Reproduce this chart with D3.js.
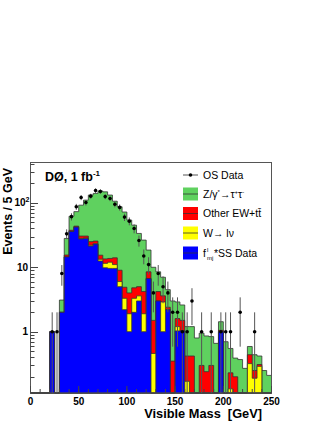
<!DOCTYPE html>
<html>
<head>
<meta charset="utf-8">
<script src="https://cdn.jsdelivr.net/npm/d3@7"></script>
<style>
  body { margin: 0; background: #fff; }
  text { font-family: "Liberation Sans", Arial, Helvetica, sans-serif; }
</style>
</head>
<body>
<script>
// visible mass bins (lower edge, GeV), 5 GeV wide
const massBins = [0, 5, 10, 15, 20, 25, 30, 35, 40, 45, 50, 55, 60, 65, 70, 75, 80, 85, 90, 95,
  100, 105, 110, 115, 120, 125, 130, 135, 140, 145, 150, 155, 160, 165, 170, 175, 180, 185, 190, 195,
  200, 205, 210, 215, 220, 225, 230, 235, 240, 245];
const binUpper = 250;

// stacked backgrounds, events per bin
const fakeSS = [0, 0, 0, 0, 1, 0, 2, 14.5, 36, 42, 27.5, 28, 21.3, 22.9, 12.5, 9.8, 9.6, 9.6, 5, 2.2,
  1, 2, 3, 1, 6.7, 0, 3, 1, 2.2, 0, 1.03, 1.03, 0, 0, 0, 0, 0, 0, 0, 1,
  0, 0, 0, 0, 0, 0, 0, 0, 0, 0];
const wToLnu = [0, 0, 0, 0, 0, 0, 0, 0, 0, 0, 0.5, 0.5, 0.7, 0.4, 0.8, 1.7, 2.4, 1.4, 1, 1.1,
  0.9, 1.3, 0.6, 0.9, 0, 0.46, 0, 1.9, 0, 0, 0.17, 0, 0.17, 0, 0, 0, 0, 0, 0, 0,
  0, 0.13, 0, 0, 0, 0.32, 0.19, 0.29, 0, 0];
const otherEW = [0, 0, 0, 0, 0, 0, 0, 1, 1.5, 1.5, 2.5, 2, 3, 2.2, 2.1, 2, 1.7, 3, 3, 1.6,
  2.1, 1.5, 1.4, 2.3, 1.8, 1.04, 1.2, 0.7, 0.2, 0.35, 0.4, 0.47, 0.25, 0.42, 0, 0.3, 0.24, 0.3, 0, 0.05,
  0, 0.1, 0.2, 0, 0, 0.12, 0.06, 0.02, 0, 0];
const zTauTau = [0, 0, 0, 0, 0, 0, 1.1, 12.5, 24.5, 29.5, 61.5, 79.5, 107, 114.5, 137.6, 134.5, 118.3, 92, 78, 67.1,
  50, 40.2, 28.5, 22.2, 10, 8.5, 4.3, 3.4, 2.1, 2.65, 1.3, 1.1, 0.78, 0.78, 0.8, 0.65, 0.62, 0.54, 0.66, 0.38,
  0.7, 0.32, 0.19, 0.37, 0.27, 0.15, 0.19, 0.11, 0.25, 0.21];

// opposite-sign data, counts per bin (null = no entry)
const osData = [null, null, null, null, 1, 1, 8, 33, 61, 87, 121, 101, 127, 155, 150, 125, 117, 95, 85, 60,
  52, 40, 26, 15, 11, 4, 8, 5, 4, 2, 2, 1, 1, 3, null, 1, null, 1, null, 1,
  1, 1, null, 2, null, null, 1, null, null, null];

const yTicks = [1, 10, 100];
const xTicks = [0, 50, 100, 150, 200, 250];

const seriesKeys = ["fakeSS", "wToLnu", "otherEW", "zTauTau"];
const seriesColor = { fakeSS: "#0000ff", wToLnu: "#ffff00", otherEW: "#ff0000", zTauTau: "#5fd15f" };

const width = 327, height = 423;
const svg = d3.select("body").append("svg")
  .attr("width", width)
  .attr("height", height)
  .style("background", "#fff");

const x = d3.scaleLinear().domain([0, 250]).range([30.5, 271.5]);
const y = d3.scaleLog().domain([0.112, 430]).range([393, 162]).clamp(true);

// stack the four backgrounds
const table = massBins.map((m, i) => ({
  m: m, fakeSS: fakeSS[i], wToLnu: wToLnu[i], otherEW: otherEW[i], zTauTau: zTauTau[i]
}));
const stacked = d3.stack().keys(seriesKeys)(table);

const area = d3.area()
  .x(d => x(d.m))
  .y0(y.range()[0])
  .y1(d => y(Math.max(d.v, 0.01)))
  .curve(d3.curveStepAfter);

const hist = svg.append("g");
stacked.slice().reverse().forEach(layer => {
  const pts = layer.map((d, i) => ({ m: massBins[i], v: d[1] }));
  pts.push({ m: binUpper, v: pts[pts.length - 1].v });
  hist.append("path")
    .attr("d", area(pts))
    .attr("fill", seriesColor[layer.key])
    .attr("stroke", "#333")
    .attr("stroke-width", 0.8);
});

// data points with sqrt(N) errors
const pts = massBins.map((m, i) => ({ m: m + 2.5, n: osData[i] })).filter(d => d.n !== null);
const dataG = svg.append("g");
dataG.selectAll("line").data(pts).enter().append("line")
  .attr("x1", d => x(d.m)).attr("x2", d => x(d.m))
  .attr("y1", d => y(Math.max(d.n - Math.sqrt(d.n), 0.01)))
  .attr("y2", d => y(d.n + Math.sqrt(d.n)))
  .attr("stroke", "#555")
  .attr("stroke-width", 1);
dataG.selectAll("circle").data(pts).enter().append("circle")
  .attr("cx", d => x(d.m))
  .attr("cy", d => y(d.n))
  .attr("r", 1.8)
  .attr("fill", "#000");

// frame
svg.append("rect")
  .attr("x", 30.5).attr("y", 162.5)
  .attr("width", 241).attr("height", 230.5)
  .attr("fill", "none")
  .attr("stroke", "#555")
  .attr("stroke-width", 1);

// y ticks (inside, ROOT style)
const axG = svg.append("g").attr("stroke", "#444").attr("stroke-width", 1);
const yMinor = [];
[0.1, 1, 10, 100].forEach(dec => {
  for (let k = 2; k <= 9; k++) {
    const v = dec * k;
    if (v > 0.112 && v < 430) yMinor.push(v);
  }
});
yMinor.forEach(v => {
  axG.append("line").attr("x1", 30.5).attr("x2", 34.5)
    .attr("y1", Math.round(y(v)) + 0.5).attr("y2", Math.round(y(v)) + 0.5);
});
yTicks.forEach(v => {
  axG.append("line").attr("x1", 30.5).attr("x2", 38)
    .attr("y1", Math.round(y(v)) + 0.5).attr("y2", Math.round(y(v)) + 0.5);
});
// x ticks
d3.range(10, 250, 10).forEach(v => {
  axG.append("line").attr("x1", x(v)).attr("x2", x(v))
    .attr("y1", 393).attr("y2", 389);
});
xTicks.forEach(v => {
  axG.append("line").attr("x1", x(v)).attr("x2", x(v))
    .attr("y1", 393).attr("y2", 386);
});

// tick labels
const labelG = svg.append("g").attr("font-weight", "bold").attr("font-size", 10).attr("fill", "#000");
xTicks.forEach(v => {
  labelG.append("text").attr("x", x(v)).attr("y", 405)
    .attr("text-anchor", "middle").text(v);
});
yTicks.forEach(v => {
  const t = labelG.append("text").attr("x", 28).attr("y", y(v) + 3.5).attr("text-anchor", "end");
  if (v === 100) {
    t.attr("x", 25.5).text("10");
    labelG.append("text").attr("x", 25.5).attr("y", y(v) - 0.5)
      .attr("font-size", 7).text("2");
  } else {
    t.text(v);
  }
});

// axis titles
svg.append("text")
  .attr("x", 262).attr("y", 418)
  .attr("text-anchor", "end")
  .attr("font-weight", "bold").attr("font-size", 12.8)
  .style("white-space", "pre")
  .text("Visible Mass  [GeV]");

svg.append("text")
  .attr("transform", "translate(12,168) rotate(-90)")
  .attr("text-anchor", "end")
  .attr("font-weight", "bold").attr("font-size", 12.5)
  .text("Events / 5 GeV");

// experiment label
const d0 = svg.append("text").attr("x", 45).attr("y", 181)
  .attr("font-weight", "bold").attr("font-size", 12.5);
d0.append("tspan").text("DØ, 1 fb");
d0.append("tspan").attr("font-size", 8).attr("dy", -5).text("-1");

// legend
const legX = 183, legW = 15, legTextX = 203;
const legG = svg.append("g").attr("font-size", 10.5);
legG.append("line").attr("x1", legX).attr("x2", legX + legW).attr("y1", 175).attr("y2", 175)
  .attr("stroke", "#555").attr("stroke-width", 1);
legG.append("circle").attr("cx", legX + legW / 2).attr("cy", 175).attr("r", 1.8).attr("fill", "#000");
legG.append("text").attr("x", legTextX).attr("y", 178.5).text("OS Data");

const swatches = [
  { key: "zTauTau", cy: 194 },
  { key: "otherEW", cy: 213.5 },
  { key: "wToLnu", cy: 233 },
  { key: "fakeSS", cy: 253 }
];
swatches.forEach(s => {
  legG.append("rect").attr("x", legX).attr("y", s.cy - 6.5).attr("width", legW).attr("height", 13)
    .attr("fill", seriesColor[s.key]);
  legG.append("line").attr("x1", legX).attr("x2", legX + legW).attr("y1", s.cy).attr("y2", s.cy)
    .attr("stroke", "#333").attr("stroke-width", 0.8);
});

const tz = legG.append("text").attr("x", legTextX).attr("y", 197.5);
tz.append("tspan").text("Z/γ");
tz.append("tspan").attr("font-size", 6).attr("dy", -4).text("*");
tz.append("tspan").attr("dy", 4).text("→τ");
tz.append("tspan").attr("font-size", 6).attr("dy", -4).text("+");
tz.append("tspan").attr("dy", 4).text("τ");
tz.append("tspan").attr("font-size", 6).attr("dy", -4).text("-");

legG.append("text").attr("x", legTextX).attr("y", 217).text("Other EW+tt\u0304");
legG.append("text").attr("x", legTextX).attr("y", 236.5).text("W→ lν");

legG.append("text").attr("x", legTextX).attr("y", 256.5).text("f");
legG.append("text").attr("x", legTextX + 4).attr("y", 252).attr("font-size", 6).text("l");
legG.append("text").attr("x", legTextX + 4).attr("y", 259.5).attr("font-size", 6).text("mj");
legG.append("text").attr("x", legTextX + 11).attr("y", 256.5).text("*SS Data");
</script>
</body>
</html>
